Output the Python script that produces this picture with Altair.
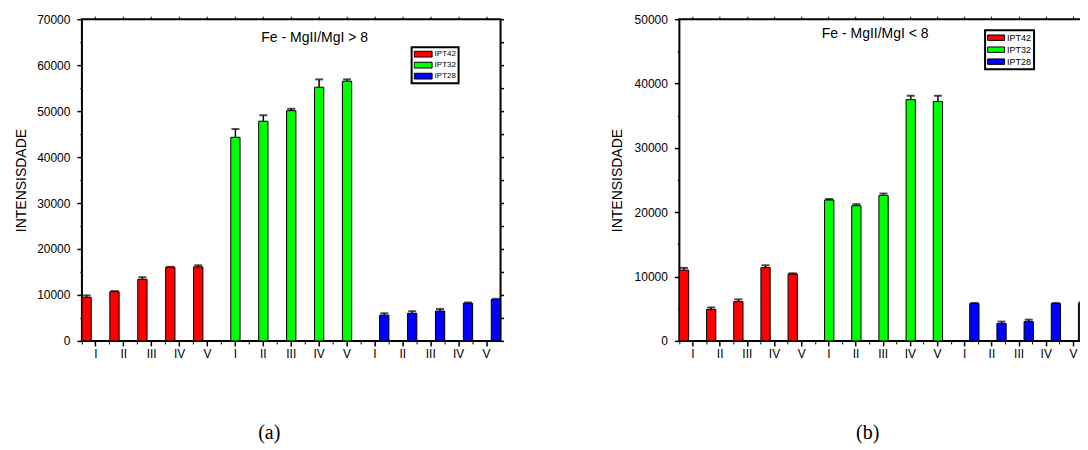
import altair as alt
import pandas as pd

# ---------------- data ----------------
numerals = ["I", "II", "III", "IV", "V"]
tick_labels = numerals * 3
series = ["IPT42", "IPT32", "IPT28"]
colors = ["#ff0000", "#00ff00", "#0000ff"]

# panel (a)  Fe - MgII/MgI > 8
a_ipt42 = [9500, 10700, 13400, 16000, 16100]
a_ipt42_err = [400, 150, 450, 120, 350]
a_ipt32 = [44300, 47800, 50100, 55200, 56500]
a_ipt32_err = [1800, 1300, 400, 1700, 400]
a_ipt28 = [5600, 6000, 6500, 8200, 9000]
a_ipt28_err = [400, 450, 450, 150, 150]

# panel (b)  Fe - MgII/MgI < 8
b_ipt42 = [11000, 4900, 6100, 11400, 10400]
b_ipt42_err = [350, 300, 350, 350, 100]
b_ipt32 = [21900, 21000, 22600, 37500, 37200]
b_ipt32_err = [150, 250, 300, 600, 900]
b_ipt28 = [5800, 2700, 3000, 5800, 5900]
b_ipt28_err = [100, 300, 300, 100, 100]

FONT = "Liberation Sans"


def make_df(vals, errs):
    rows = []
    for si, s in enumerate(series):
        for j in range(5):
            rows.append(dict(pos=si * 5 + j + 1, series=s,
                             value=vals[si][j], top=vals[si][j] + errs[si][j]))
    return pd.DataFrame(rows)


label_expr = "[" + ",".join("'%s'" % t for t in tick_labels) + "][datum.value - 1]"


def panel(df, ymax, title, tx, ty, lx, ly, lfont, lsym, lclip, caption, cx, cy, ytx, width):
    xscale = alt.Scale(domain=list(range(1, 16)), paddingInner=0, paddingOuter=0)
    yscale = alt.Scale(domain=[0, ymax], nice=False)
    off = alt.XOffset("series:N", scale=alt.Scale(domain=series, paddingInner=0, paddingOuter=0))
    color = alt.Color(
        "series:N",
        scale=alt.Scale(domain=series, range=colors),
        legend=alt.Legend(
            orient="none", legendX=lx, legendY=ly, title=None, direction="vertical",
            fillColor="white", strokeColor="black", padding=2, rowPadding=1,
            clipHeight=lclip,
            labelFont=FONT, labelFontSize=lfont, labelColor="black", labelOffset=2,
            symbolType="M-1,-0.32H1V0.32H-1Z", symbolSize=lsym * lsym,
            symbolStrokeColor="black", symbolStrokeWidth=1, symbolOpacity=1,
        ),
        sort=series,
    )
    bars = alt.Chart(df).mark_bar(stroke="black", strokeWidth=1, opacity=1).encode(
        x=alt.X("pos:O", scale=xscale, axis=alt.Axis(
            orient="bottom", title=caption, labelExpr=label_expr, labelAngle=0,
            labelFont=FONT, labelFontSize=12, labelColor="black", labelPadding=3,
            tickSize=5, tickColor="black", tickWidth=1.5, domain=False,
            titleFont="Liberation Serif", titleFontSize=20, titleFontWeight="normal",
            titleColor="black", titleX=cx, titleY=cy, titleBaseline="middle", titleAlign="center")),
        xOffset=off,
        y=alt.Y("value:Q", scale=yscale, axis=alt.Axis(
            orient="left", title="INTENSISDADE", values=list(range(0, ymax + 1, 5000)),
            labelExpr="datum.value % 10000 === 0 ? datum.label : ''",
            format="d", labelFont=FONT, labelFontSize=12, labelColor="black", labelPadding=7,
            tickSize={"condition": {"test": "datum.value % 10000 !== 0", "value": 2}, "value": 5},
            tickColor="black", tickWidth=1.5, domain=False, grid=False,
            titleFont=FONT, titleFontSize=14, titleFontWeight="normal", titleColor="black",
            titleX=ytx, titleBaseline="middle")),
        color=color,
    )
    stems = alt.Chart(df).mark_rule(color="black", strokeWidth=1.5).encode(
        x=alt.X("pos:O", scale=xscale, axis=alt.Axis(
            orient="bottom", title=None, labels=False, bandPosition=0, tickSize=3,
            tickColor="black", tickWidth=1, domain=False)),
        xOffset=off,
        y=alt.Y("value:Q", scale=yscale, axis=alt.Axis(
            orient="right", title=None, labels=False, values=list(range(0, ymax + 1, 5000)),
            tickSize=3, tickColor="black", tickWidth=1.5, domain=False, grid=False)),
        y2="top:Q",
    )
    caps = alt.Chart(df).mark_tick(color="black", thickness=2, size=8, orient="horizontal").encode(
        x=alt.X("pos:O", scale=xscale, axis=alt.Axis(
            orient="top", title=None, labels=False, bandPosition=0.5, tickSize=3,
            tickColor="black", tickWidth=1, domain=False)),
        xOffset=off,
        y=alt.Y("top:Q", scale=yscale, axis=None),
    )
    txt = alt.Chart(pd.DataFrame({"t": [title]})).mark_text(
        font=FONT, fontSize=14, color="black", align="center", baseline="middle"
    ).encode(text="t:N", x=alt.value(tx), y=alt.value(ty))
    return alt.layer(bars, stems, caps, txt).properties(width=width, height=322)


df_a = make_df([a_ipt42, a_ipt32, a_ipt28], [a_ipt42_err, a_ipt32_err, a_ipt28_err])
df_b = make_df([b_ipt42, b_ipt32, b_ipt28], [b_ipt42_err, b_ipt32_err, b_ipt28_err])

pa = panel(df_a, 70000, "Fe - MgII/MgI > 8", 233, 19, 330, 28, 8, 18, 10,
           "(a)", 187, 92, -60, 419)
pb = panel(df_b, 50000, "Fe - MgII/MgI < 8", 196, 15, 306, 11, 9, 17, 11,
           "(b)", 188, 92, -62, 408)

chart = alt.hconcat(pa, pb, spacing=179, bounds="flush").resolve_scale(
    color="independent", x="independent", y="independent"
).resolve_legend(color="independent").configure_view(
    stroke="black", strokeWidth=2
).configure_legend(
    strokeWidth=2
).properties(
    padding={"left": 6, "top": 4, "right": -12, "bottom": 0}
)

chart.save("out.html", embed_options={"renderer": "svg", "actions": False})
